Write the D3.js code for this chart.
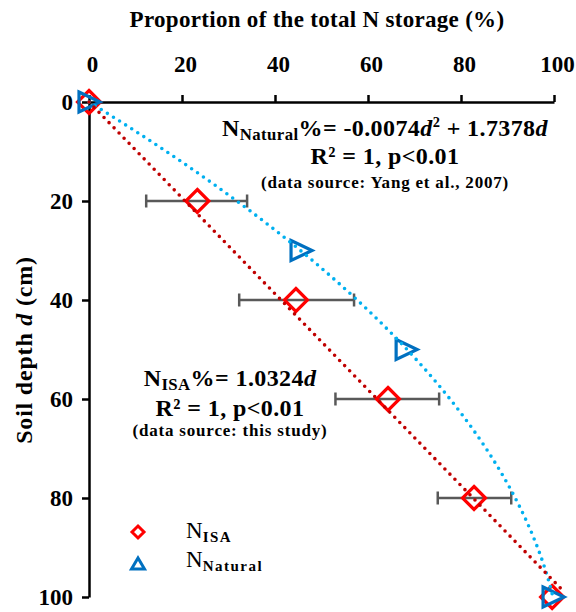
<!DOCTYPE html>
<html><head><meta charset="utf-8">
<script src="https://cdn.jsdelivr.net/npm/d3@7"></script>
<style>
body{margin:0;background:#fff;}
text{font-family:"Liberation Serif","Times New Roman",serif;}
</style></head>
<body><svg id="c" width="576" height="612"></svg>
<script>
// ---- data ----
const xTicks = [0, 20, 40, 60, 80, 100];
const yTicks = [0, 20, 40, 60, 80, 100];
const isaDepth = [0, 20, 40, 60, 80, 100];
const isaValue = [0, 23.3, 44.5, 64.3, 82.8, 99.6];
const isaErrLow = [null, 12.3, 32.3, 53.0, 75.0, null];
const isaErrHigh = [null, 34.0, 57.0, 75.3, 90.8, null];
const natDepth = [0, 30, 50, 100];
const natValue = [0, 45.6, 68.2, 99.8];
const isaCoef = [1.0324];            // N% = a*d
const natCoef = [-0.0074, 1.7378];   // N% = a*d^2 + b*d
const trendDepthIsa = [0, 98.5];
const trendDepthNat = [0, 100];

const svg = d3.select("#c");
const x = d3.scaleLinear().domain([0, 100]).range([89, 554]);
const y = d3.scaleLinear().domain([0, 100]).range([102, 597]);
const serif = '"Liberation Serif","Times New Roman",serif';

// axes
const xAx = svg.append("g").attr("transform", `translate(0,${y(0)})`)
  .call(d3.axisTop(x).tickValues(xTicks).tickSize(7).tickPadding(23).tickSizeOuter(0));
const yAx = svg.append("g").attr("transform", `translate(${x(0)},0)`)
  .call(d3.axisLeft(y).tickValues(yTicks).tickSize(7).tickPadding(9).tickSizeOuter(0));
[xAx, yAx].forEach(g => {
  g.attr("font-family", null).attr("font-size", null);
  g.selectAll("path.domain").attr("stroke", "#000").attr("stroke-width", 2.5);
  g.selectAll(".tick line").attr("stroke", "#000").attr("stroke-width", 2.5);
  g.selectAll(".tick text").style("font-family", serif)
    .style("font-weight", "bold").style("font-size", "23px").attr("fill", "#000");
});
xAx.selectAll(".tick text").attr("dx", 3);

// titles
svg.append("text").attr("x", 317).attr("y", 27).attr("text-anchor", "middle")
  .attr("font-weight", "bold").attr("font-size", 23).attr("letter-spacing", 0.3)
  .text("Proportion of the total N storage (%)");
const yt = svg.append("text").attr("transform", "translate(32,350) rotate(-90)")
  .attr("text-anchor", "middle").attr("font-weight", "bold").attr("font-size", 24)
  .attr("letter-spacing", 0.8);
yt.append("tspan").text("Soil depth ");
yt.append("tspan").attr("font-style", "italic").text("d");
yt.append("tspan").text(" (cm)");

// error bars
const eb = svg.append("g").attr("stroke", "#595959").attr("stroke-width", 2.5).attr("fill", "none");
isaDepth.forEach((d, i) => {
  if (isaErrLow[i] == null) return;
  const yy = y(d);
  eb.append("line").attr("x1", x(isaErrLow[i])).attr("x2", x(isaErrHigh[i])).attr("y1", yy).attr("y2", yy);
  eb.append("line").attr("x1", x(isaErrLow[i])).attr("x2", x(isaErrLow[i])).attr("y1", yy - 6.5).attr("y2", yy + 6.5);
  eb.append("line").attr("x1", x(isaErrHigh[i])).attr("x2", x(isaErrHigh[i])).attr("y1", yy - 6.5).attr("y2", yy + 6.5);
});

// markers
const diamond = s => `M0,${-s}L${s},0L0,${s}L${-s},0Z`;
const triRight = "M-9,-10L12,0L-9,10Z";
const triUp = "M0,-6L6.5,5L-6.5,5Z";
svg.append("g").selectAll("path").data(isaDepth).join("path")
  .attr("d", diamond(11.5)).attr("transform", (d, i) => `translate(${x(isaValue[i])},${y(d)})`)
  .attr("fill", "none").attr("stroke", "#ff0000").attr("stroke-width", 3.2);
svg.append("g").selectAll("path").data(natDepth).join("path")
  .attr("d", triRight).attr("transform", (d, i) => `translate(${x(natValue[i]) - 1},${y(d)})`)
  .attr("fill", "none").attr("stroke", "#0070c0").attr("stroke-width", 3.2);

// trendlines
const sampleDepths = (a, b) => d3.range(a, b + 0.001, (b - a) / 100);
const isaPts = sampleDepths(trendDepthIsa[0], trendDepthIsa[1]).map(d => [isaCoef[0] * d, d]);
const natPts = sampleDepths(trendDepthNat[0], trendDepthNat[1]).map(d => [natCoef[0] * d * d + natCoef[1] * d, d]);
const line = d3.line().x(p => x(p[0])).y(p => y(p[1]));
svg.append("path").attr("d", line(natPts)).attr("fill", "none").attr("stroke", "#00b0f0")
  .attr("stroke-width", 3.6).attr("stroke-linecap", "round").attr("stroke-dasharray", "0,7.2");
svg.append("path").attr("d", line(isaPts)).attr("fill", "none").attr("stroke", "#c00000")
  .attr("stroke-width", 3.6).attr("stroke-linecap", "round").attr("stroke-dasharray", "0,7.2");

// equations
function eqLine(cx, cy, size, ls, parts) {
  const t = svg.append("text").attr("x", cx).attr("y", cy).attr("text-anchor", "middle")
    .attr("font-weight", "bold").attr("font-size", size).attr("letter-spacing", ls);
  parts.forEach(p => {
    const s = t.append("tspan").text(p.t);
    if (p.i) s.attr("font-style", "italic");
    if (p.sub) s.attr("font-size", size * 0.7).attr("dy", 4);
    if (p.sup) s.attr("font-size", size * 0.6).attr("dy", -9);
    if (p.back) s.attr("dy", p.back);
  });
  return t;
}
eqLine(385, 136, 24, 0.4, [{t: "N"}, {t: "Natural", sub: 1}, {t: "%= -0.0074", back: -4}, {t: "d", i: 1},
  {t: "2", sup: 1}, {t: " + 1.7378", back: 9}, {t: "d", i: 1}]);
eqLine(385, 164, 24, 0.4, [{t: "R² = 1, p<0.01"}]);
eqLine(385, 188, 17, 0.8, [{t: "(data source: Yang et al., 2007)"}]);

eqLine(230, 386, 24, 0.4, [{t: "N"}, {t: "ISA", sub: 1}, {t: "%= 1.0324", back: -4}, {t: "d", i: 1}]);
eqLine(230, 416, 24, 0.4, [{t: "R² = 1, p<0.01"}]);
eqLine(230, 436, 17, 0.8, [{t: "(data source: this study)"}]);

// legend
svg.append("path").attr("d", diamond(6)).attr("transform", "translate(138,532)")
  .attr("fill", "none").attr("stroke", "#ff0000").attr("stroke-width", 3);
svg.append("path").attr("d", triUp).attr("transform", "translate(138,564)")
  .attr("fill", "none").attr("stroke", "#0070c0").attr("stroke-width", 3);
const l1 = svg.append("text").attr("x", 186).attr("y", 538).attr("font-size", 23);
l1.append("tspan").text("N");
l1.append("tspan").attr("font-size", 15).attr("font-weight", "bold").attr("letter-spacing", 1.5).attr("dy", 4).text("ISA");
const l2 = svg.append("text").attr("x", 186).attr("y", 567).attr("font-size", 23);
l2.append("tspan").text("N");
l2.append("tspan").attr("font-size", 15).attr("font-weight", "bold").attr("letter-spacing", 1.5).attr("dy", 4).text("Natural");
</script></body></html>
